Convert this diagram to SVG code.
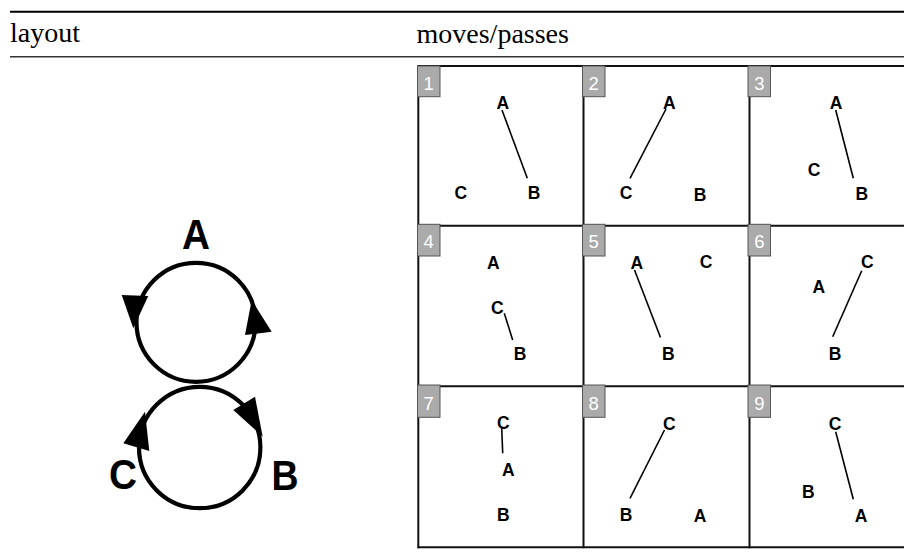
<svg xmlns="http://www.w3.org/2000/svg" width="904" height="556" viewBox="0 0 904 556">
<style>
.hdr{font-family:"Liberation Serif","Times New Roman",serif;font-size:28px;fill:#000}
.lbl{font-family:"Liberation Sans",Arial,sans-serif;font-weight:bold;font-size:17.5px;fill:#000;text-anchor:middle}
.big{font-family:"Liberation Sans",Arial,sans-serif;font-weight:bold;font-size:42px;fill:#000}
.num{font-family:"Liberation Sans",Arial,sans-serif;font-size:18.5px;fill:#fff;text-anchor:middle}
.tag{fill:#aaaaaa;stroke:#555;stroke-width:1}
.grid{stroke:#111;stroke-width:2;fill:none}
.edge{stroke:#000;stroke-width:1.6;fill:none}
.ring{stroke:#000;stroke-width:4.2;fill:none}
.head{fill:#000}
</style>
<rect width="904" height="556" fill="#fff"/>
<g id="header">
<line x1="10" y1="11.7" x2="904" y2="11.7" stroke="#000" stroke-width="2"/>
<line x1="10" y1="56.7" x2="904" y2="56.7" stroke="#333" stroke-width="1.6"/>
<text class="hdr" x="10" y="42">layout</text>
<text class="hdr" x="416.5" y="42.5">moves/passes</text>
</g>
<g id="layout">
<text class="big" x="182" y="249" textLength="28" lengthAdjust="spacingAndGlyphs">A</text>
<text class="big" x="109" y="489" textLength="28" lengthAdjust="spacingAndGlyphs">C</text>
<text class="big" x="271.5" y="490" textLength="27" lengthAdjust="spacingAndGlyphs">B</text>
<circle class="ring" cx="196" cy="322.3" r="59.5"/>
<circle class="ring" cx="199.7" cy="447.5" r="60.7"/>
<polygon class="head" points="121.7,295 148.3,296 133.3,328.3"/>
<polygon class="head" points="251.7,300 271.7,331.7 245,335"/>
<polygon class="head" points="233.3,410 255,396.7 262.7,436.7"/>
<polygon class="head" points="123.3,443.3 149.3,451 145,411.7"/>
</g>
<g id="grid">
<line class="grid" x1="417.5" y1="66" x2="904" y2="66"/>
<line class="grid" x1="417.5" y1="225.8" x2="904" y2="225.8"/>
<line class="grid" x1="417.5" y1="386.3" x2="904" y2="386.3"/>
<line class="grid" x1="417.5" y1="547.3" x2="904" y2="547.3"/>
<line class="grid" x1="418.3" y1="66" x2="418.3" y2="548.3"/>
<line class="grid" x1="583.5" y1="66" x2="583.5" y2="548.3"/>
<line class="grid" x1="749.5" y1="66" x2="749.5" y2="548.3"/>
</g>
<g id="connectors">
<line class="edge" x1="502" y1="110" x2="527.3" y2="178.3"/>
<line class="edge" x1="630" y1="178.3" x2="666" y2="109"/>
<line class="edge" x1="835.7" y1="110" x2="853.3" y2="178.3"/>
<line class="edge" x1="504.3" y1="313.3" x2="512.7" y2="340"/>
<line class="edge" x1="634.5" y1="270" x2="660.5" y2="337.5"/>
<line class="edge" x1="861.7" y1="270.7" x2="832.7" y2="336.7"/>
<line class="edge" x1="501.7" y1="427.7" x2="502.7" y2="453.3"/>
<line class="edge" x1="630" y1="498.3" x2="664.5" y2="430"/>
<line class="edge" x1="835.7" y1="431.7" x2="853.3" y2="499.3"/>
</g>
<g id="cell1">
<rect class="tag" x="417.5" y="66" width="22.5" height="30.7"/>
<text class="num" x="428.7" y="89.5">1</text>
<text class="lbl" x="502.7" y="108.7">A</text>
<text class="lbl" x="460.7" y="199.3">C</text>
<text class="lbl" x="534" y="199.3">B</text>
</g>
<g id="cell2">
<rect class="tag" x="582.5" y="66" width="22.5" height="30.7"/>
<text class="num" x="593.7" y="89.5">2</text>
<text class="lbl" x="669.3" y="108.7">A</text>
<text class="lbl" x="626" y="199.3">C</text>
<text class="lbl" x="700" y="200.5">B</text>
</g>
<g id="cell3">
<rect class="tag" x="748" y="66" width="22.5" height="30.7"/>
<text class="num" x="759.3" y="89.5">3</text>
<text class="lbl" x="836" y="108.7">A</text>
<text class="lbl" x="814" y="176">C</text>
<text class="lbl" x="861.7" y="200.3">B</text>
</g>
<g id="cell4">
<rect class="tag" x="417.5" y="224.3" width="22.5" height="31.7"/>
<text class="num" x="428.7" y="248.3">4</text>
<text class="lbl" x="493.3" y="269.3">A</text>
<text class="lbl" x="497.3" y="314.3">C</text>
<text class="lbl" x="520" y="360.3">B</text>
</g>
<g id="cell5">
<rect class="tag" x="582.5" y="224.3" width="22.5" height="31.7"/>
<text class="num" x="593.7" y="248.3">5</text>
<text class="lbl" x="636.7" y="269.3">A</text>
<text class="lbl" x="706" y="268.3">C</text>
<text class="lbl" x="668.3" y="360.3">B</text>
</g>
<g id="cell6">
<rect class="tag" x="748" y="224.3" width="22.5" height="31.7"/>
<text class="num" x="759.3" y="248.3">6</text>
<text class="lbl" x="867.3" y="268.3">C</text>
<text class="lbl" x="818.7" y="292.7">A</text>
<text class="lbl" x="835" y="360.3">B</text>
</g>
<g id="cell7">
<rect class="tag" x="417.5" y="385" width="22.5" height="32.3"/>
<text class="num" x="428.7" y="409.5">7</text>
<text class="lbl" x="503.3" y="429.3">C</text>
<text class="lbl" x="508.3" y="476">A</text>
<text class="lbl" x="503.3" y="521">B</text>
</g>
<g id="cell8">
<rect class="tag" x="582.5" y="385" width="22.5" height="32.3"/>
<text class="num" x="593.7" y="409.5">8</text>
<text class="lbl" x="669.3" y="430">C</text>
<text class="lbl" x="626" y="521">B</text>
<text class="lbl" x="700" y="521.7">A</text>
</g>
<g id="cell9">
<rect class="tag" x="748" y="385" width="22.5" height="32.3"/>
<text class="num" x="759.3" y="409.5">9</text>
<text class="lbl" x="835" y="430">C</text>
<text class="lbl" x="808.3" y="498.3">B</text>
<text class="lbl" x="861" y="521.7">A</text>
</g>
</svg>
